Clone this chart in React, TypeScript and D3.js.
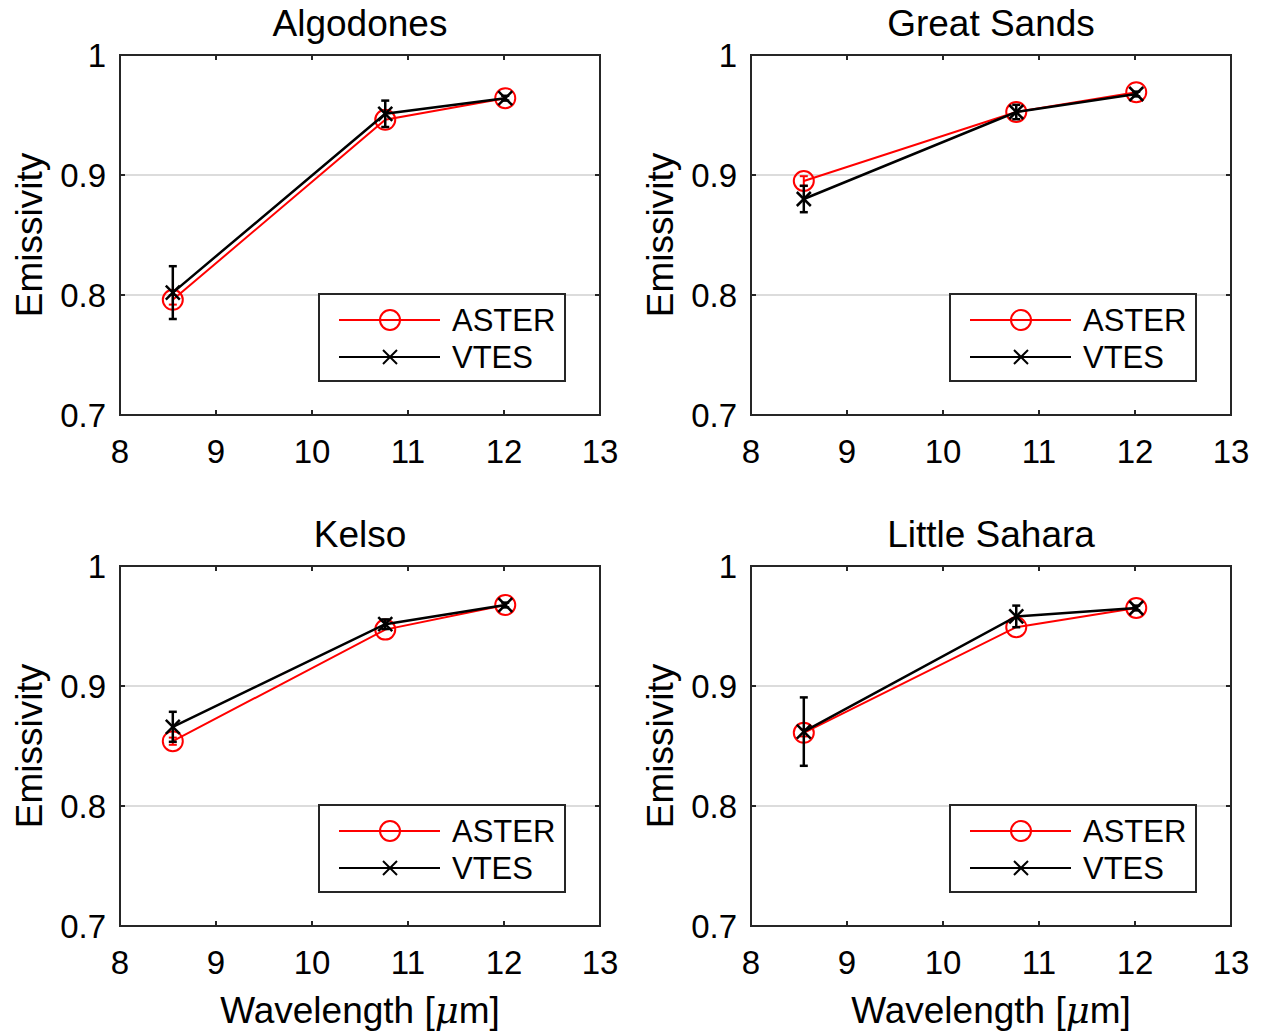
import React from "react";
import * as d3 from "d3";

const wavelengths = [8.55, 10.763, 12.013];
const panelTitles = ["Algodones", "Great Sands", "Kelso", "Little Sahara"];
const asterValues = [
  [0.796, 0.946, 0.964],
  [0.895, 0.9525, 0.969],
  [0.854, 0.947, 0.9675],
  [0.861, 0.949, 0.965],
];
const asterErrors = [
  [0.004, 0.0, 0.0],
  [0.004, 0.0, 0.0],
  [0.003, 0.0, 0.0],
  [0.003, 0.0, 0.0],
];
const vtesValues = [
  [0.802, 0.951, 0.964],
  [0.880, 0.9525, 0.9675],
  [0.866, 0.9515, 0.9675],
  [0.862, 0.958, 0.965],
];
const vtesErrors = [
  [0.022, 0.011, 0.002],
  [0.011, 0.006, 0.002],
  [0.0125, 0.004, 0.002],
  [0.0285, 0.009, 0.002],
];
const xTicks = [8, 9, 10, 11, 12, 13];
const yTicks = [0.7, 0.8, 0.9, 1];
const yTickLabels = ["0.7", "0.8", "0.9", "1"];
const seriesNames = ["ASTER", "VTES"];

const AXIS = "#262626";
const FONT = "'Liberation Sans', Arial, Helvetica, sans-serif";

function Panel({ idx, left, top }: { idx: number; left: number; top: number }) {
  const W = 480;
  const H = 360;
  const x = d3.scaleLinear().domain([8, 13]).range([left, left + W]);
  const y = d3.scaleLinear().domain([0.7, 1]).range([top + H, top]);
  const line = d3
    .line<[number, number]>()
    .x((d) => x(d[0]))
    .y((d) => y(d[1]));
  const aster: [number, number][] = wavelengths.map((w, i) => [w, asterValues[idx][i]]);
  const vtes: [number, number][] = wavelengths.map((w, i) => [w, vtesValues[idx][i]]);
  const cap = 4;
  const xm = 7;
  const lx = left + 199;
  const ly = top + 239;
  return (
    <g>
      {yTicks
        .filter((t) => t > 0.7 && t < 1)
        .map((t) => (
          <line key={t} x1={left} x2={left + W} y1={y(t)} y2={y(t)} stroke="#dcdcdc" strokeWidth={2} />
        ))}
      {/* ASTER */}
      <path d={line(aster) || ""} fill="none" stroke="#ff0000" strokeWidth={2} />
      {aster.map((d, i) => {
        const e = asterErrors[idx][i];
        return e > 0 ? (
          <g key={"ae" + i} stroke="#ff0000" strokeWidth={2}>
            <line x1={x(d[0])} x2={x(d[0])} y1={y(d[1] - e)} y2={y(d[1] + e)} />
            <line x1={x(d[0]) - cap} x2={x(d[0]) + cap} y1={y(d[1] - e)} y2={y(d[1] - e)} />
            <line x1={x(d[0]) - cap} x2={x(d[0]) + cap} y1={y(d[1] + e)} y2={y(d[1] + e)} />
          </g>
        ) : null;
      })}
      {aster.map((d, i) => (
        <circle key={"ac" + i} cx={x(d[0])} cy={y(d[1])} r={10} fill="none" stroke="#ff0000" strokeWidth={2} />
      ))}
      {/* VTES */}
      <path d={line(vtes) || ""} fill="none" stroke="#000" strokeWidth={2.5} />
      {vtes.map((d, i) => {
        const e = vtesErrors[idx][i];
        const cx = x(d[0]);
        const cy = y(d[1]);
        return (
          <g key={"v" + i} stroke="#000" strokeWidth={2.5}>
            <line x1={cx} x2={cx} y1={y(d[1] - e)} y2={y(d[1] + e)} />
            <line x1={cx - cap} x2={cx + cap} y1={y(d[1] - e)} y2={y(d[1] - e)} />
            <line x1={cx - cap} x2={cx + cap} y1={y(d[1] + e)} y2={y(d[1] + e)} />
            <line x1={cx - xm} x2={cx + xm} y1={cy - xm} y2={cy + xm} />
            <line x1={cx - xm} x2={cx + xm} y1={cy + xm} y2={cy - xm} />
          </g>
        );
      })}
      {/* axes box */}
      <rect x={left} y={top} width={W} height={H} fill="none" stroke={AXIS} strokeWidth={2} />
      {xTicks.map((t) => (
        <g key={"xt" + t}>
          <line x1={x(t)} x2={x(t)} y1={top + H} y2={top + H - 5} stroke={AXIS} strokeWidth={2} />
          <line x1={x(t)} x2={x(t)} y1={top} y2={top + 5} stroke={AXIS} strokeWidth={2} />
          <text x={x(t)} y={top + H + 48} textAnchor="middle" fontSize={33} fontFamily={FONT} fill="#000">
            {t}
          </text>
        </g>
      ))}
      {yTicks.map((t, i) => (
        <g key={"yt" + t}>
          <line x1={left} x2={left + 5} y1={y(t)} y2={y(t)} stroke={AXIS} strokeWidth={2} />
          <line x1={left + W} x2={left + W - 5} y1={y(t)} y2={y(t)} stroke={AXIS} strokeWidth={2} />
          <text x={left - 14} y={y(t) + 12} textAnchor="end" fontSize={33} fontFamily={FONT} fill="#000">
            {yTickLabels[i]}
          </text>
        </g>
      ))}
      <text x={left + W / 2} y={top - 19} textAnchor="middle" fontSize={37} fontFamily={FONT} fill="#000">
        {panelTitles[idx]}
      </text>
      <text
        transform={`translate(${left - 78},${top + H / 2}) rotate(-90)`}
        textAnchor="middle"
        fontSize={37}
        fontFamily={FONT}
        fill="#000"
      >
        Emissivity
      </text>
      {/* legend */}
      <rect x={lx} y={ly} width={246} height={87} fill="#fff" stroke={AXIS} strokeWidth={2} />
      <line x1={lx + 20} x2={lx + 121} y1={ly + 26} y2={ly + 26} stroke="#ff0000" strokeWidth={2} />
      <circle cx={lx + 71} cy={ly + 26} r={10} fill="none" stroke="#ff0000" strokeWidth={2} />
      <text x={lx + 133} y={ly + 37} fontSize={31} fontFamily={FONT} fill="#000">
        {seriesNames[0]}
      </text>
      <line x1={lx + 20} x2={lx + 121} y1={ly + 63} y2={ly + 63} stroke="#000" strokeWidth={2} />
      <line x1={lx + 64} x2={lx + 78} y1={ly + 56} y2={ly + 70} stroke="#000" strokeWidth={2} />
      <line x1={lx + 64} x2={lx + 78} y1={ly + 70} y2={ly + 56} stroke="#000" strokeWidth={2} />
      <text x={lx + 133} y={ly + 74} fontSize={31} fontFamily={FONT} fill="#000">
        {seriesNames[1]}
      </text>
    </g>
  );
}

export default function App() {
  const lefts = [120, 751];
  const tops = [55, 566];
  return (
    <svg
      width={1261}
      height={1033}
      style={{ position: "absolute", left: 0, top: 0, background: "#fff" }}
    >
      <rect width={1261} height={1033} fill="#fff" />
      {[0, 1, 2, 3].map((i) => (
        <Panel key={i} idx={i} left={lefts[i % 2]} top={tops[Math.floor(i / 2)]} />
      ))}
      {lefts.map((l, i) => (
        <text key={i} x={l + 240} y={1023} textAnchor="middle" fontSize={37} fontFamily={FONT} fill="#000">
          Wavelength [<tspan fontFamily="'DejaVu Serif', serif" fontStyle="italic">μ</tspan>m]
        </text>
      ))}
    </svg>
  );
}
